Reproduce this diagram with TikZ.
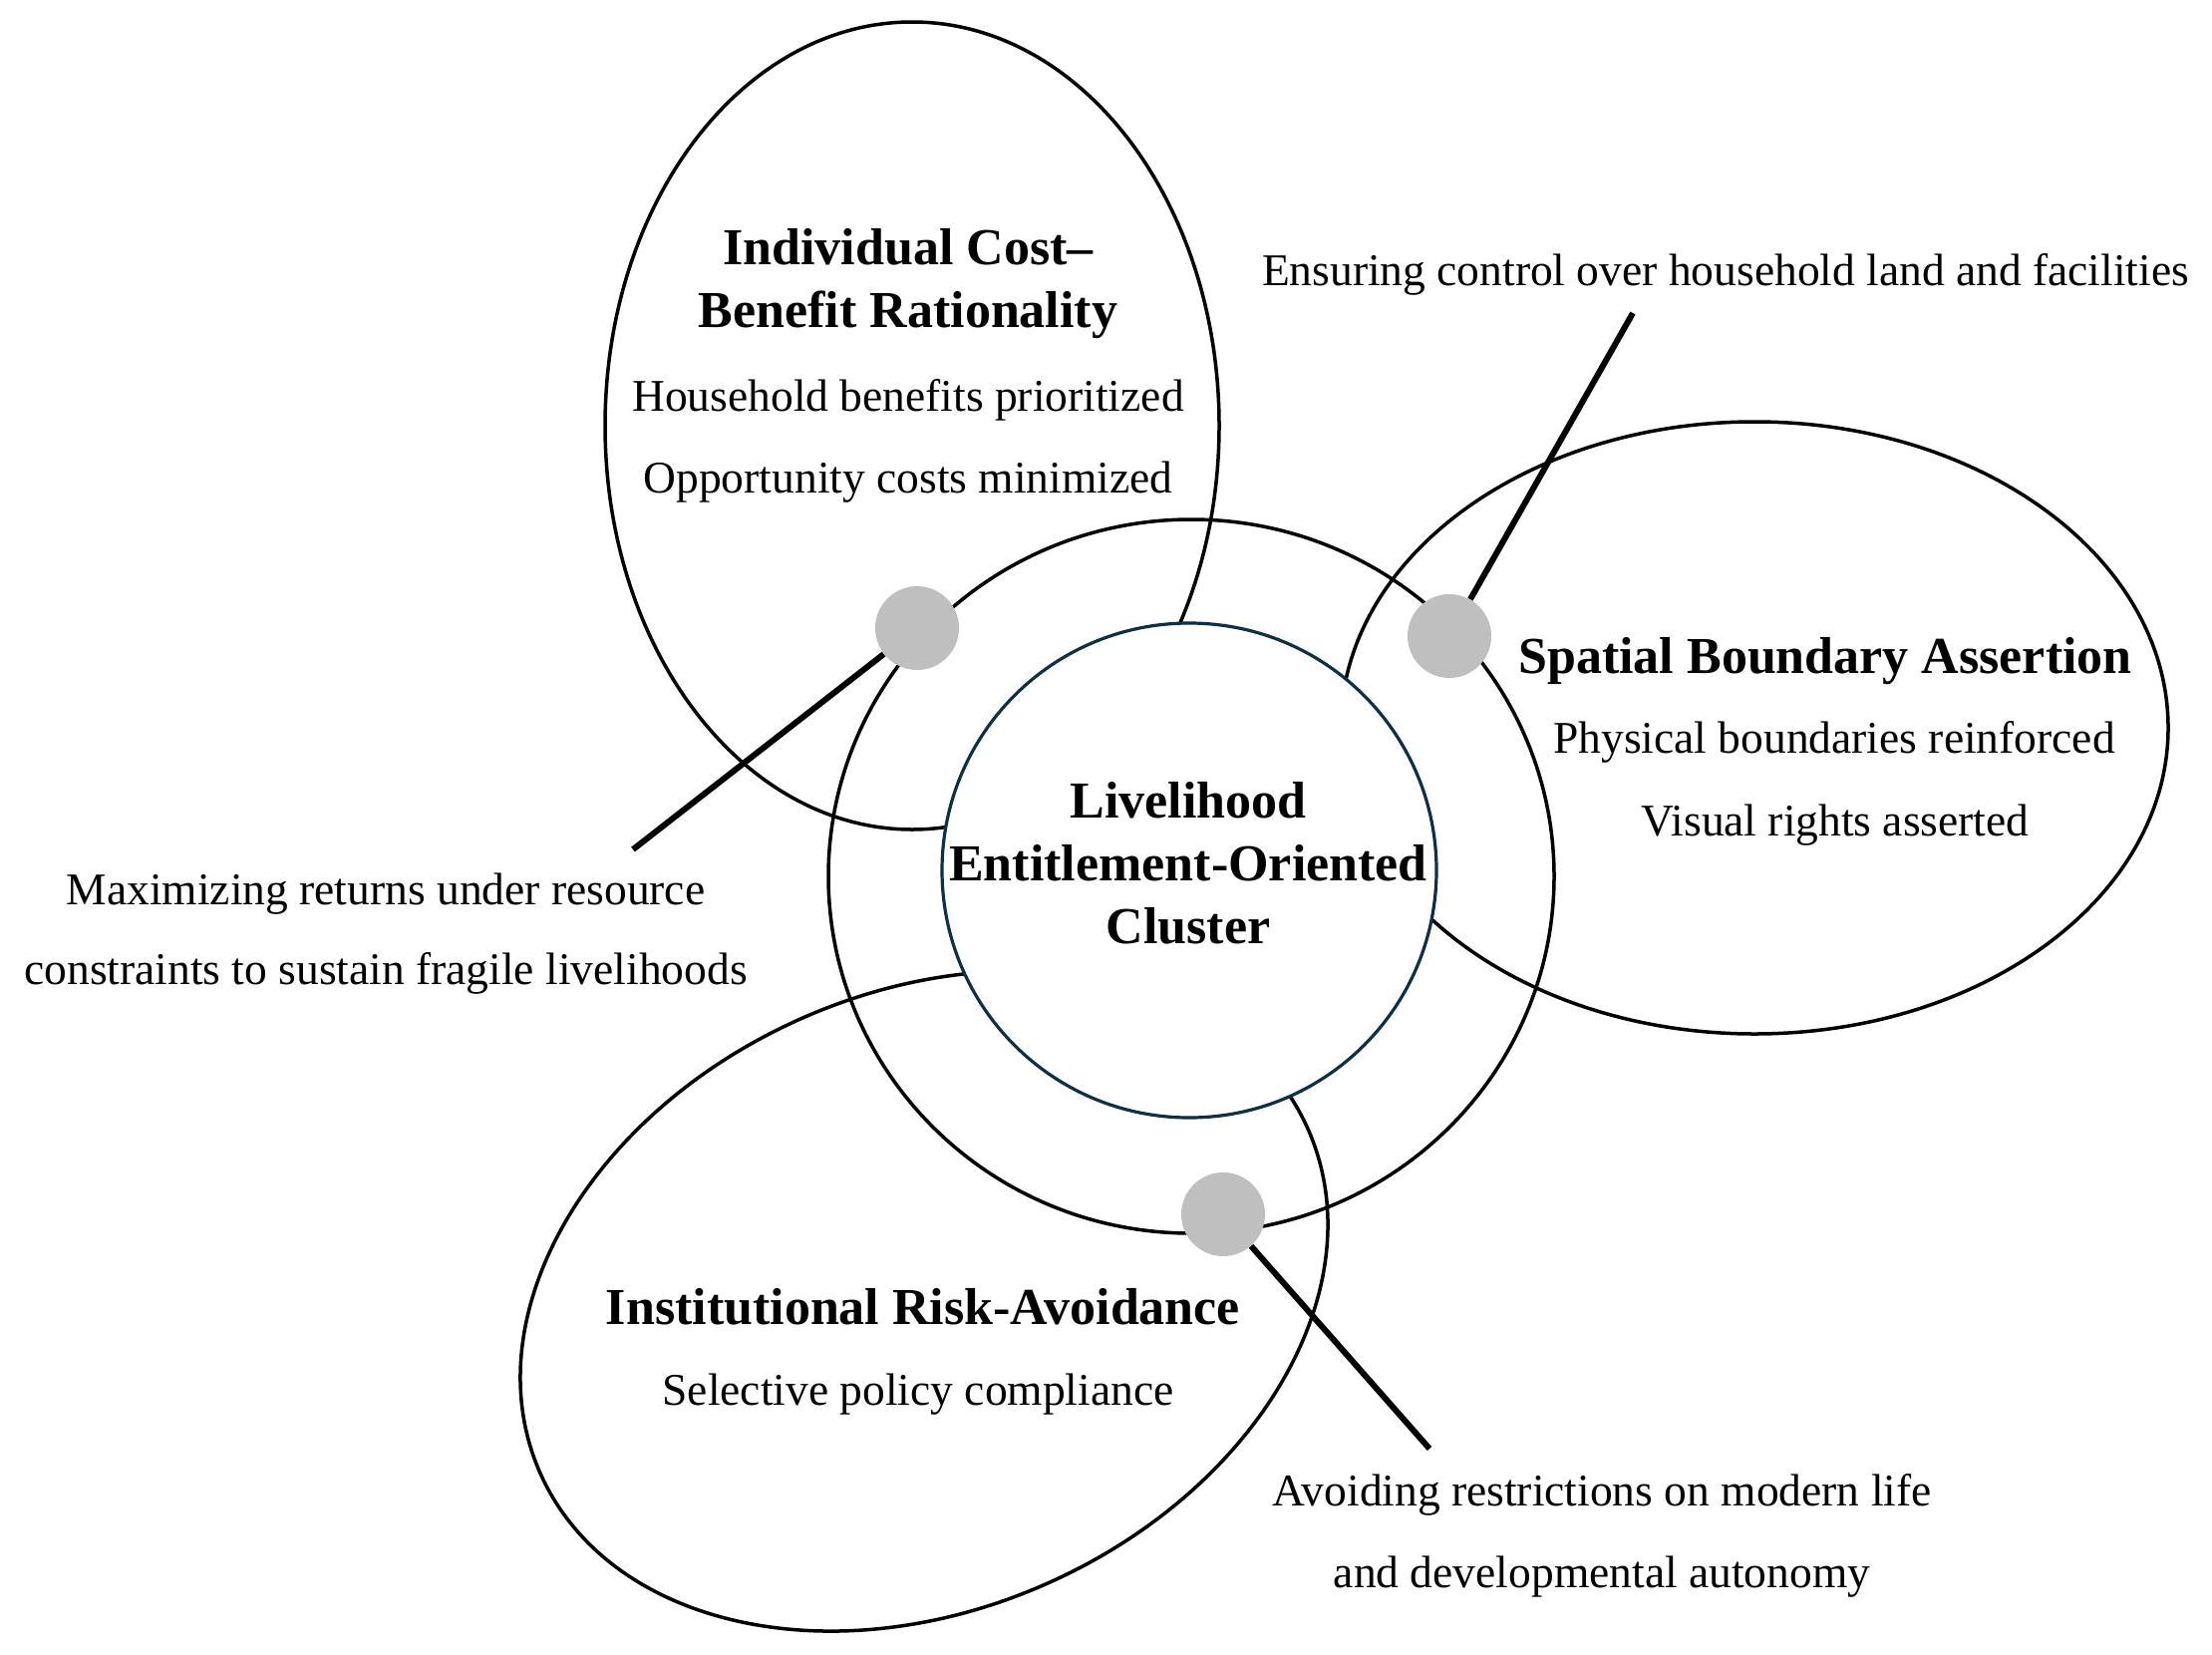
\documentclass[tikz,border=0pt]{standalone}
\usepackage{fontspec}
\setmainfont{Liberation Serif}
\definecolor{innerc}{HTML}{0F2F42}
\definecolor{dotc}{HTML}{BFBFBF}
\begin{document}
\begin{tikzpicture}[x=0.5pt,y=-0.5pt,
  ring/.style={draw=black, line width=1.75pt},
  link/.style={draw=black, line width=3pt, line cap=butt},
  dotnode/.style={circle, fill=dotc, draw=none, minimum size=42pt, inner sep=0pt},
  reg/.style={font=\fontsize{22.75}{41}\selectfont, inner sep=0pt, anchor=base},
  bld/.style={font=\fontsize{26}{31.5}\selectfont\bfseries, inner sep=0pt, anchor=base}]
\useasboundingbox (0,0) rectangle (2219,1659);
\fill[white] (0,0) rectangle (2219,1659);

% outer shapes
\draw[ring] (915,427) ellipse [x radius=154pt, y radius=202.5pt];
\draw[ring] (1760,730) ellipse [x radius=207.5pt, y radius=153.5pt];
\draw[ring, rotate around={24.4:(927,1305)}] (927,1305) ellipse [x radius=211pt, y radius=154.5pt];
\draw[ring] (1195,879) ellipse [x radius=182pt, y radius=179pt];

% core
\node[circle, draw=innerc, fill=white, line width=1.6pt, minimum size=248pt, inner sep=0pt] (core) at (1193,873) {};

% dots
\node[dotnode] (d1) at (920,630) {};
\node[dotnode] (d2) at (1454,638) {};
\node[dotnode] (d3) at (1227,1218) {};
\coordinate (e1) at (635,852);
\coordinate (e2) at (1638,314);
\coordinate (e3) at (1434,1453);
\draw[link] (d1) -- (e1);
\draw[link] (d2) -- (e2);
\draw[link] (d3) -- (e3);

% texts
\node[bld] (t1a) at (911,265) {Individual Cost–};
\node[bld] (t1b) at (911,328) {Benefit Rationality};
\node[reg] (t1c) at (911,412) {Household benefits prioritized};
\node[reg] (t1d) at (911,494) {Opportunity costs minimized};

\node[bld] (c1) at (1192,820) {Livelihood};
\node[bld] (c2) at (1192,883) {Entitlement-Oriented};
\node[bld] (c3) at (1192,946) {Cluster};

\node[bld] (t2a) at (1831,675) {Spatial Boundary Assertion};
\node[reg] (t2b) at (1840,755) {Physical boundaries reinforced};
\node[reg] (t2c) at (1841,838) {Visual rights asserted};

\node[bld] (t3a) at (926,1328) {Institutional Risk-Avoidance};
\node[reg] (t3b) at (921,1409) {Selective policy compliance};

\node[reg] (l2) at (1731,286) {Ensuring control over household land and facilities};
\node[reg] (l1a) at (387,907) {Maximizing returns under resource};
\node[reg] (l1b) at (387,987) {constraints to sustain fragile livelihoods};
\node[reg] (l3a) at (1607,1510) {Avoiding restrictions on modern life};
\node[reg] (l3b) at (1607,1592) {and developmental autonomy};
\end{tikzpicture}
\end{document}
